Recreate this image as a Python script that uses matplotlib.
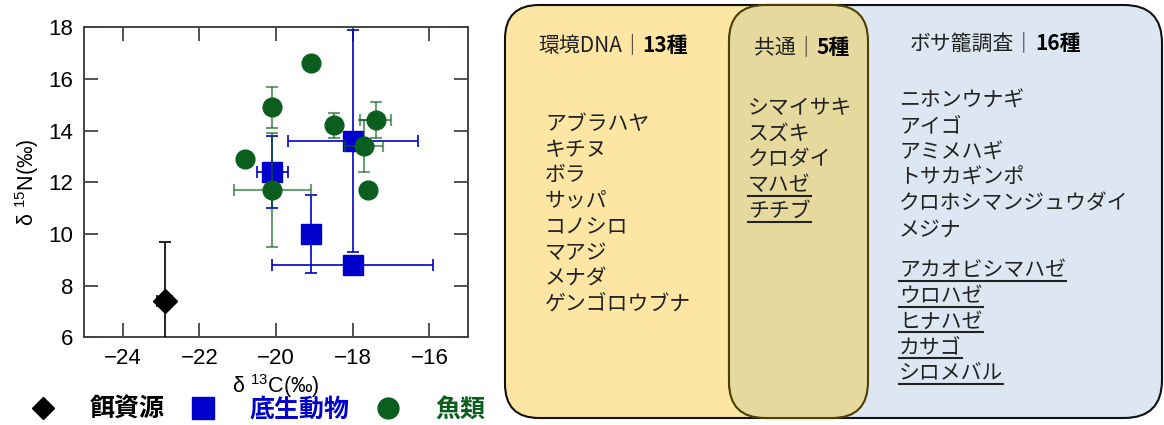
import matplotlib
matplotlib.use('Agg')
import matplotlib.pyplot as plt
from matplotlib.patches import FancyBboxPatch
from matplotlib.lines import Line2D
from matplotlib.font_manager import FontProperties

plt.rcParams['font.family'] = ['Liberation Sans', 'Noto Sans CJK JP', 'DejaVu Sans']
plt.rcParams['mathtext.default'] = 'regular'

# ── data: isotope means and SD ───────────────────────────────────────────────
bait_x    = [-22.9]
bait_y    = [7.4]
bait_xerr = [0.2]
bait_yerr = [2.3]

benth_x    = [-20.1, -19.1, -18.0, -18.0]
benth_y    = [12.4, 10.0, 13.6, 8.8]
benth_xerr = [0.4, 0.0, 1.7, 2.1]
benth_yerr = [1.4, 1.5, 4.3, 0.0]

fish_x    = [-19.1, -20.1, -18.5, -17.4, -17.7, -20.8, -20.1, -17.6]
fish_y    = [16.6, 14.9, 14.2, 14.4, 13.4, 12.9, 11.7, 11.7]
fish_xerr = [0.0, 0.0, 0.0, 0.4, 0.5, 0.0, 1.0, 0.0]
fish_yerr = [0.0, 0.8, 0.5, 0.7, 1.0, 0.0, 2.2, 0.0]

legend_labels = ['餌資源', '底生動物', '魚類']

# ── data: species lists ──────────────────────────────────────────────────────
env_title    = ('環境DNA｜', '13種')
common_title = ('共通｜', '5種')
trap_title   = ('ボサ籠調査｜', '16種')

env_only      = ['アブラハヤ', 'キチヌ', 'ボラ', 'サッパ', 'コノシロ', 'マアジ', 'メナダ', 'ゲンゴロウブナ']
common        = ['シマイサキ', 'スズキ', 'クロダイ', 'マハゼ', 'チチブ']
common_ul     = [False, False, False, True, True]
trap_only     = ['ニホンウナギ', 'アイゴ', 'アミメハギ', 'トサカギンポ', 'クロホシマンジュウダイ', 'メジナ']
trap_only_ul  = ['アカオビシマハゼ', 'ウロハゼ', 'ヒナハゼ', 'カサゴ', 'シロメバル']

BLACK = '#000000'
BLUE  = '#0000cc'
GREEN = '#0b5e1e'
GREEN_ERR = (0.04, 0.37, 0.12, 0.6)
TXT = '#222222'

W, H = 1164, 425
fig = plt.figure(figsize=(W / 100, H / 100), dpi=100)

# ── scatter panel ────────────────────────────────────────────────────────────
ax = fig.add_axes([84.3 / W, 1 - 337.3 / H, 383.4 / W, 310 / H])
ax.errorbar(bait_x, bait_y, xerr=bait_xerr, yerr=bait_yerr, fmt='D', color=BLACK,
            ms=12, elinewidth=1.2, capsize=4, capthick=1.2, zorder=3)
ax.errorbar(benth_x, benth_y, xerr=benth_xerr, yerr=benth_yerr, fmt='s', color=BLUE,
            ms=14, elinewidth=1.2, capsize=4, capthick=1.2, zorder=4)
ax.errorbar(fish_x, fish_y, xerr=fish_xerr, yerr=fish_yerr, fmt='o', color=GREEN,
            ecolor=GREEN_ERR, ms=13.5, elinewidth=1.5, capsize=4, capthick=1.5, zorder=5)

ax.set_xlim(-25, -15)
ax.set_ylim(6, 18)
ax.set_xticks([-24, -22, -20, -18, -16])
ax.set_yticks([6, 8, 10, 12, 14, 16, 18])
ax.tick_params(direction='in', length=10, width=1.3, colors='#444444',
               labelcolor='black', labelsize=16, top=True, right=True, pad=8)
for s in ax.spines.values():
    s.set_linewidth(1.4)
    s.set_color('#444444')
ax.set_xlabel(r'δ $^{13}$C(‰)', fontsize=15.5, labelpad=2)
ax.set_ylabel(r'δ $^{15}$N(‰)', fontsize=15.5, labelpad=5)

handles = [
    Line2D([], [], marker='D', color=BLACK, ls='none', ms=11),
    Line2D([], [], marker='s', color=BLUE, ls='none', ms=16),
    Line2D([], [], marker='o', color=GREEN, ls='none', ms=15),
]
fig.legend(handles, legend_labels, ncol=3, loc='center left',
           bbox_to_anchor=(30 / W, 15 / H), frameon=False,
           prop=FontProperties(family='Noto Sans CJK JP', size=18, weight='bold'),
           labelcolor=[BLACK, BLUE, GREEN], handlelength=1.0, handletextpad=1.4,
           columnspacing=1.0, borderpad=0, borderaxespad=0)

# ── Venn-style species panel (pixel coordinates) ────────────────────────────
bx = fig.add_axes([0, 0, 1, 1])
bx.set_xlim(0, W)
bx.set_ylim(H, 0)
bx.axis('off')
bx.set_zorder(-1)

def rbox(x0, y0, x1, y1, fc, ec, r):
    bx.add_patch(FancyBboxPatch((x0, y0), x1 - x0, y1 - y0,
                                boxstyle=f'round,pad=0,rounding_size={r}',
                                fc=fc, ec=ec, lw=1.5))

rbox(505, 5, 868, 418, '#fde6a3', '#111111', 34)
rbox(729, 5, 1162, 418, '#dce7f3', '#111111', 38)
rbox(729, 5, 868, 418, '#e6d99e', '#4d4000', 36)

font_cjk = 'Noto Sans CJK JP'
FS = 15

def title(x, y, parts):
    t = bx.text(x, y, parts[0], fontsize=FS, family=font_cjk, color=TXT,
                ha='left', va='center')
    bx.annotate(parts[1], xy=(1, 0.5), xycoords=t, fontsize=FS, family=font_cjk,
                color='black', weight='bold', ha='left', va='center')

title(538, 45, env_title)
title(754, 47, common_title)
title(910, 43, trap_title)

LH = 25.7
underline_items = []

def species(x, y0, names, flags=None):
    for i, name in enumerate(names):
        t = bx.text(x, y0 + i * LH, name, fontsize=FS, family=font_cjk,
                    color=TXT, ha='left', va='center')
        if flags is not None and flags[i]:
            underline_items.append((t, y0 + i * LH + 11))

species(545, 124, env_only)
species(748, 108, common, common_ul)
species(899, 101, trap_only)
species(899, 270, trap_only_ul, [True] * len(trap_only_ul))

fig.canvas.draw()
rend = fig.canvas.get_renderer()
inv = bx.transData.inverted()
for t, yl in underline_items:
    bb = t.get_window_extent(rend)
    (xa, _), (xb, _) = inv.transform([(bb.x0, bb.y0), (bb.x1, bb.y0)])
    bx.plot([xa, xb], [yl, yl], color=TXT, lw=1.5)

fig.savefig('out.png', dpi=100)
